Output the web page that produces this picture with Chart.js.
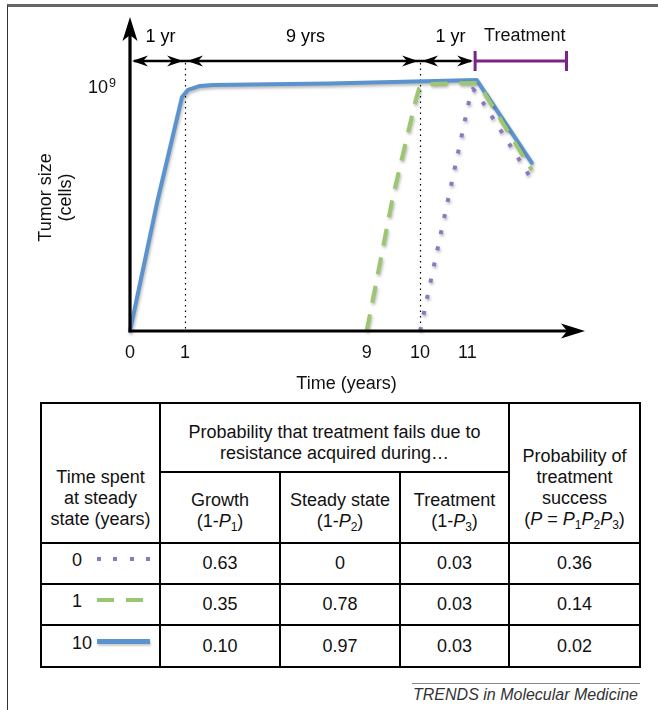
<!DOCTYPE html>
<html>
<head>
<meta charset="utf-8">
<script src="https://cdn.jsdelivr.net/npm/chart.js@4.4.1/dist/chart.umd.min.js"></script>
<style>
  html, body { margin: 0; padding: 0; background: #fff; }
  body { width: 658px; height: 710px; position: relative; overflow: hidden;
         font-family: "Liberation Sans", Arial, Helvetica, sans-serif; color: #111; }
  #frame { position: absolute; left: 7px; top: 4px; width: 700px; height: 720px;
           border-top: 3px solid #666; border-left: 1px solid #333; }
  #plot { position: absolute; left: 0; top: 0; }
  #tbl { position: absolute; left: 40px; top: 402px; border-collapse: collapse;
         table-layout: fixed; width: 601px; font-size: 18px; }
  #tbl td { border: 2px solid #000; text-align: center; padding: 0; line-height: 21px; }
  #tbl td.low { vertical-align: bottom; padding-bottom: 12px; }
  #tbl td.top { padding-top: 10px; }
  #tbl td.sub { padding-top: 6px; }
  #tbl sub { font-size: 12px; vertical-align: -4px; line-height: 0; }
  #tbl td.key { text-align: left; padding-left: 30px; }
  #tbl .lab { display: inline-block; width: 25px; position: relative; top: -3px; }
  #tbl .swatch { display: inline-block; vertical-align: middle; position: relative; top: -5px;
                 box-shadow: 1px 2px 2px rgba(0,0,0,0.2); }
  #rule { position: absolute; left: 412px; top: 683px; width: 228px; height: 1px; background: #888; }
  #source { position: absolute; right: 20px; top: 686px; font-size: 16px; font-style: italic; color: #333; }
</style>
</head>
<body>
<div id="frame"></div>
<canvas id="plot" width="658" height="400"></canvas>
<table id="tbl"></table>
<div id="rule"></div>
<div id="source">TRENDS in Molecular Medicine</div>
<script>
// time in years, tumour size in units of 10^9 cells
const xTicks = [0, 1, 9, 10, 11];
const yTicks = [1];

const steady10Years = [0, 0.49, 0.945, 1.13, 1.66, 2.23, 7.4, 11.17, 12.17];
const steady10Size  = [0, 0.52, 0.951, 0.98, 0.996, 1.0, 1.006, 1.02, 0.683];
const steady1Years  = [9, 9.49, 9.92, 9.98, 10.12, 11.14, 11.22, 12.17];
const steady1Size   = [0, 0.545, 0.94, 0.985, 1.004, 1.008, 1.0, 0.654];
const steady0Years  = [10, 11.03, 11.10, 11.175, 12.14];
const steady0Size   = [0, 0.935, 0.984, 0.967, 0.626];

const phaseBounds = [0, 1, 10, 11.14];
const phaseLabels = ['1 yr', '9 yrs', '1 yr'];
const treatmentSpan = [11.14, 12.8];

const rowLabels  = ['0', '1', '10'];
const growthFail = ['0.63', '0.35', '0.10'];
const steadyFail = ['0', '0.78', '0.97'];
const treatFail  = ['0.03', '0.03', '0.03'];
const success    = ['0.36', '0.14', '0.02'];

const BLUE = '#5b93cf', GREEN = '#9cc66f', PURPLE = '#8a78c0', TREAT = '#7b2383';
const FONT = '"Liberation Sans", Arial, sans-serif';
const styles = [
  { color: PURPLE, width: 4, dash: [4, 12.5] },
  { color: GREEN, width: 4, dash: [17, 12] },
  { color: BLUE, width: 4, dash: [] }
];

// the figure is schematic: the 1-9 year stretch is squeezed
const knotYears = [0, 1, 9, 10, 11];
const knotAxis  = [0, 1, 4.3, 5.27, 6.13];
function stretch(v) {
  for (let i = 1; i < knotYears.length; i++) {
    if (v <= knotYears[i]) {
      const t = (v - knotYears[i - 1]) / (knotYears[i] - knotYears[i - 1]);
      return knotAxis[i - 1] + t * (knotAxis[i] - knotAxis[i - 1]);
    }
  }
  return knotAxis[knotAxis.length - 1] + (v - knotYears[knotYears.length - 1]);
}

class SchematicScale extends Chart.LinearScale {
  getPixelForValue(value) {
    return this.left + (this.right - this.left) * stretch(value) / stretch(this.max);
  }
}
SchematicScale.id = 'schematic';
SchematicScale.defaults = Chart.LinearScale.defaults;
Chart.register(SchematicScale);

function arrowHead(ctx, x, y, angle, len, half, notch) {
  ctx.save();
  ctx.translate(x, y);
  ctx.rotate(angle);
  ctx.beginPath();
  ctx.moveTo(0, 0);
  ctx.lineTo(-len, -half);
  ctx.lineTo(-len + notch, 0);
  ctx.lineTo(-len, half);
  ctx.closePath();
  ctx.fill();
  ctx.restore();
}

const shadow = {
  id: 'shadow',
  beforeDatasetDraw(chart) {
    const ctx = chart.ctx;
    ctx.save();
    ctx.shadowColor = 'rgba(0,0,0,0.28)';
    ctx.shadowBlur = 3;
    ctx.shadowOffsetX = 1;
    ctx.shadowOffsetY = 2;
  },
  afterDatasetDraw(chart) { chart.ctx.restore(); }
};

const decor = {
  id: 'decor',
  beforeDatasetsDraw(chart) {
    const { ctx, chartArea: a, scales: { x } } = chart;
    const dimY = a.top + 41;
    ctx.save();
    ctx.strokeStyle = '#000';
    ctx.lineWidth = 1.2;
    ctx.setLineDash([1.5, 4]);
    [phaseBounds[1], phaseBounds[2]].forEach(v => {
      const px = Math.round(x.getPixelForValue(v)) + 0.5;
      ctx.beginPath();
      ctx.moveTo(px, dimY + 2);
      ctx.lineTo(px, a.bottom);
      ctx.stroke();
    });
    ctx.restore();
  },
  afterDatasetsDraw(chart) {
    const { ctx, chartArea: a, scales: { x, y } } = chart;
    ctx.save();
    // axes
    ctx.strokeStyle = '#000';
    ctx.fillStyle = '#000';
    ctx.lineWidth = 3.2;
    ctx.beginPath();
    ctx.moveTo(a.left, a.top + 10);
    ctx.lineTo(a.left, a.bottom);
    ctx.lineTo(a.right - 10, a.bottom);
    ctx.stroke();
    arrowHead(ctx, a.left, a.top - 3, -Math.PI / 2, 24, 7.5, 6);
    arrowHead(ctx, a.right + 2, a.bottom, 0, 24, 7.5, 6);

    // exponent of the y tick (10^9)
    ctx.fillStyle = '#111';
    ctx.font = '12.5px ' + FONT;
    ctx.textAlign = 'left';
    ctx.textBaseline = 'alphabetic';
    yTicks.forEach(v => ctx.fillText('9', a.left - 21, y.getPixelForValue(v) + 2.5));

    // phase dimension arrows
    ctx.fillStyle = '#000';
    const dimY = a.top + 41;
    ctx.lineWidth = 2.4;
    const px = phaseBounds.map(v => x.getPixelForValue(v));
    ctx.beginPath();
    ctx.moveTo(px[0] + 4, dimY);
    ctx.lineTo(px[px.length - 1] - 4, dimY);
    ctx.stroke();
    ctx.font = '18px ' + FONT;
    ctx.textAlign = 'center';
    for (let i = 0; i < phaseLabels.length; i++) {
      arrowHead(ctx, px[i] + 2, dimY, Math.PI, 16, 5.5, 5);
      arrowHead(ctx, px[i + 1] - 2, dimY, 0, 16, 5.5, 5);
      ctx.fillText(phaseLabels[i], (px[i] + px[i + 1]) / 2 + 3, a.top + 22);
    }

    // treatment bar
    const t0 = x.getPixelForValue(treatmentSpan[0]);
    const t1 = x.getPixelForValue(treatmentSpan[1]);
    ctx.strokeStyle = TREAT;
    ctx.lineWidth = 3;
    ctx.beginPath();
    ctx.moveTo(t0, dimY); ctx.lineTo(t1, dimY);
    ctx.moveTo(t0, dimY - 10); ctx.lineTo(t0, dimY + 10);
    ctx.moveTo(t1, dimY - 10); ctx.lineTo(t1, dimY + 10);
    ctx.stroke();
    ctx.fillStyle = '#111';
    ctx.fillText('Treatment', (t0 + t1) / 2 + 4, a.top + 21);

    // axis titles
    ctx.fillText('Time (years)', (a.left + a.right) / 2 - 10, a.bottom + 58);
    ctx.translate(a.left - 79, (a.top + a.bottom) / 2 + 22);
    ctx.rotate(-Math.PI / 2);
    ctx.fillText('Tumor size', 0, 0);
    ctx.fillText('(cells)', 0, 20);
    ctx.restore();
  }
};

const series = [
  { years: steady0Years, size: steady0Size, style: styles[0], order: 0 },
  { years: steady1Years, size: steady1Size, style: styles[1], order: 1 },
  { years: steady10Years, size: steady10Size, style: styles[2], order: 2 }
];

new Chart(document.getElementById('plot').getContext('2d'), {
  type: 'line',
  data: {
    datasets: series.map(s => ({
      data: s.years.map((v, i) => ({ x: v, y: s.size[i] })),
      borderColor: s.style.color,
      borderWidth: s.style.width,
      borderDash: s.style.dash,
      borderCapStyle: s.style.dash.length ? 'butt' : 'round',
      borderJoinStyle: 'round',
      pointRadius: 0,
      tension: 0,
      fill: false,
      clip: false,
      order: s.order
    }))
  },
  options: {
    responsive: false,
    animation: false,
    devicePixelRatio: 1,
    layout: { padding: { top: 20, right: 75, left: 0, bottom: 0 } },
    plugins: { legend: { display: false }, tooltip: { enabled: false } },
    scales: {
      x: {
        type: 'schematic',
        min: 0,
        max: 13.1,
        grid: { display: false, drawTicks: false },
        border: { display: false },
        afterBuildTicks: s => { s.ticks = xTicks.map(v => ({ value: v })); },
        afterFit: s => { s.height = 69; s.paddingLeft = 0; s.paddingRight = 0; },
        ticks: { padding: 11, color: '#111', autoSkip: false, maxRotation: 0,
                 font: { size: 18, family: FONT } }
      },
      y: {
        min: 0,
        max: 1.264,
        grid: { display: false, drawTicks: false },
        border: { display: false },
        afterBuildTicks: s => { s.ticks = yTicks.map(v => ({ value: v })); },
        afterFit: s => { s.width = 130; s.paddingTop = 0; s.paddingBottom = 0; },
        ticks: { padding: 22, labelOffset: 3, color: '#111', callback: () => '10',
                 font: { size: 18, family: FONT } }
      }
    }
  },
  plugins: [shadow, decor]
});

// table
function swatch(st) {
  const on = st.dash.length ? st.dash[0] : 0;
  const bg = st.dash.length
    ? `repeating-linear-gradient(90deg, ${st.color} 0 ${on}px, transparent ${on}px ${on + st.dash[1]}px)`
    : st.color;
  const w = st.dash.length ? (st.dash[0] === 4 ? 56 : 46) : 53;
  const h = st.dash.length ? 4 : 5;
  const sh = st.dash.length ? 'box-shadow:none;' : '';
  return `<span class="swatch" style="width:${w}px;height:${h}px;background:${bg};${sh}"></span>`;
}

const P = n => `<i>P</i><sub>${n}</sub>`;
let html = `<colgroup><col style="width:119px"><col style="width:120px"><col style="width:120px"><col style="width:109px"><col style="width:131px"></colgroup>
<tr style="height:69px">
  <td rowspan="2" class="low">Time spent<br>at steady<br>state (years)</td>
  <td colspan="3" class="top">Probability that treatment fails due to<br>resistance acquired during…</td>
  <td rowspan="2" class="low">Probability of<br>treatment<br>success<br>(<i>P</i> = ${P(1)}${P(2)}${P(3)})</td>
</tr>
<tr style="height:71px">
  <td class="sub">Growth<br>(1-${P(1)})</td>
  <td class="sub">Steady state<br>(1-${P(2)})</td>
  <td class="sub">Treatment<br>(1-${P(3)})</td>
</tr>`;
rowLabels.forEach((lab, i) => {
  html += `<tr style="height:${i === 2 ? 42 : 41}px">
  <td class="key"><span class="lab">${lab}</span>${swatch(styles[i])}</td>
  <td>${growthFail[i]}</td><td>${steadyFail[i]}</td><td>${treatFail[i]}</td><td>${success[i]}</td>
</tr>`;
});
document.getElementById('tbl').innerHTML = html;
</script>
</body>
</html>
